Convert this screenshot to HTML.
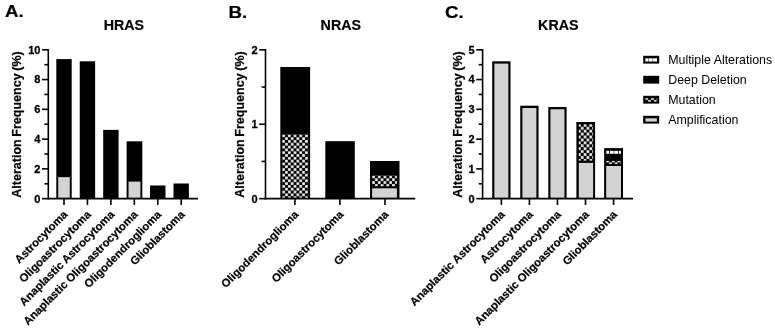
<!DOCTYPE html>
<html><head><meta charset="utf-8"><title>RAS alterations</title>
<style>
html,body{margin:0;padding:0;background:#fff;}
body{width:775px;height:328px;overflow:hidden;}
svg{display:block;font-family:"Liberation Sans",Arial,Helvetica,sans-serif;fill:#000;}
</style></head><body>
<svg width="775" height="328" viewBox="0 0 775 328">
<defs>
<pattern id="chk1" x="282.20" y="134.40" width="5.70" height="5.62" patternUnits="userSpaceOnUse"><rect width="5.70" height="5.62" fill="#000"/><rect x="0.13" y="0.13" width="2.59" height="2.55" fill="#fff"/><rect x="2.98" y="2.94" width="2.59" height="2.55" fill="#fff"/></pattern>
<pattern id="chk2" x="372.10" y="175.50" width="5.70" height="5.62" patternUnits="userSpaceOnUse"><rect width="5.70" height="5.62" fill="#000"/><rect x="0.13" y="0.13" width="2.59" height="2.55" fill="#fff"/><rect x="2.98" y="2.94" width="2.59" height="2.55" fill="#fff"/></pattern>
<pattern id="chk3" x="577.95" y="123.85" width="5.70" height="5.84" patternUnits="userSpaceOnUse"><rect width="5.70" height="5.84" fill="#000"/><rect x="0.13" y="0.13" width="2.59" height="2.66" fill="#fff"/><rect x="2.98" y="3.05" width="2.59" height="2.66" fill="#fff"/></pattern>
<pattern id="chk4" x="606.15" y="159.60" width="5.70" height="5.62" patternUnits="userSpaceOnUse"><rect width="5.70" height="5.62" fill="#000"/><rect x="0.13" y="0.13" width="2.59" height="2.55" fill="#fff"/><rect x="2.98" y="2.94" width="2.59" height="2.55" fill="#fff"/></pattern>
<pattern id="chk5" x="645.30" y="97.05" width="5.70" height="5.62" patternUnits="userSpaceOnUse"><rect width="5.70" height="5.62" fill="#000"/><rect x="0.13" y="0.13" width="2.59" height="2.55" fill="#fff"/><rect x="2.98" y="2.94" width="2.59" height="2.55" fill="#fff"/></pattern>
</defs>
<rect width="775" height="328" fill="#fff"/>
<rect x="56.30" y="59.10" width="15.40" height="139.55" fill="#000"/>
<rect x="58.20" y="177.10" width="11.60" height="20.75" fill="#d3d3d3"/>
<rect x="79.74" y="61.30" width="15.40" height="137.35" fill="#000"/>
<rect x="103.18" y="129.90" width="15.40" height="68.75" fill="#000"/>
<rect x="126.62" y="141.30" width="15.70" height="57.35" fill="#000"/>
<rect x="128.52" y="181.60" width="11.90" height="16.25" fill="#d3d3d3"/>
<rect x="150.06" y="185.50" width="15.40" height="13.15" fill="#000"/>
<rect x="173.50" y="183.50" width="15.40" height="15.15" fill="#000"/>
<line x1="48.30" y1="49.00" x2="48.30" y2="199.45" stroke="#000" stroke-width="1.6"/>
<line x1="47.50" y1="198.65" x2="198.00" y2="198.65" stroke="#000" stroke-width="1.6"/>
<line x1="42.00" y1="198.65" x2="48.30" y2="198.65" stroke="#000" stroke-width="1.6"/>
<text font-size="11.0" font-weight="bold" text-anchor="end" transform="translate(40.40 202.50) scale(1 1)" stroke="#000" stroke-width="0.3">0</text>
<line x1="42.00" y1="168.88" x2="48.30" y2="168.88" stroke="#000" stroke-width="1.6"/>
<text font-size="11.0" font-weight="bold" text-anchor="end" transform="translate(40.40 172.73) scale(1 1)" stroke="#000" stroke-width="0.3">2</text>
<line x1="42.00" y1="139.11" x2="48.30" y2="139.11" stroke="#000" stroke-width="1.6"/>
<text font-size="11.0" font-weight="bold" text-anchor="end" transform="translate(40.40 142.96) scale(1 1)" stroke="#000" stroke-width="0.3">4</text>
<line x1="42.00" y1="109.34" x2="48.30" y2="109.34" stroke="#000" stroke-width="1.6"/>
<text font-size="11.0" font-weight="bold" text-anchor="end" transform="translate(40.40 113.19) scale(1 1)" stroke="#000" stroke-width="0.3">6</text>
<line x1="42.00" y1="79.57" x2="48.30" y2="79.57" stroke="#000" stroke-width="1.6"/>
<text font-size="11.0" font-weight="bold" text-anchor="end" transform="translate(40.40 83.42) scale(1 1)" stroke="#000" stroke-width="0.3">8</text>
<line x1="42.00" y1="49.80" x2="48.30" y2="49.80" stroke="#000" stroke-width="1.6"/>
<text font-size="11.0" font-weight="bold" text-anchor="end" transform="translate(40.40 53.65) scale(1 1)" stroke="#000" stroke-width="0.3">10</text>
<line x1="44.40" y1="183.77" x2="48.30" y2="183.77" stroke="#000" stroke-width="1.6"/>
<line x1="44.40" y1="154.00" x2="48.30" y2="154.00" stroke="#000" stroke-width="1.6"/>
<line x1="44.40" y1="124.22" x2="48.30" y2="124.22" stroke="#000" stroke-width="1.6"/>
<line x1="44.40" y1="94.45" x2="48.30" y2="94.45" stroke="#000" stroke-width="1.6"/>
<line x1="44.40" y1="64.69" x2="48.30" y2="64.69" stroke="#000" stroke-width="1.6"/>
<line x1="64.00" y1="198.65" x2="64.00" y2="204.95" stroke="#000" stroke-width="1.6"/>
<text font-size="11.3" font-weight="bold" text-anchor="end" transform="translate(68.20 215.25) scale(1 1) rotate(-45)" stroke="#000" stroke-width="0.2">Astrocytoma</text>
<line x1="87.44" y1="198.65" x2="87.44" y2="204.95" stroke="#000" stroke-width="1.6"/>
<text font-size="11.3" font-weight="bold" text-anchor="end" transform="translate(91.64 215.25) scale(1 1) rotate(-45)" stroke="#000" stroke-width="0.2">Oligoastrocytoma</text>
<line x1="110.88" y1="198.65" x2="110.88" y2="204.95" stroke="#000" stroke-width="1.6"/>
<text font-size="11.3" font-weight="bold" text-anchor="end" transform="translate(115.08 215.25) scale(1 1) rotate(-45)" stroke="#000" stroke-width="0.2">Anaplastic Astrocytoma</text>
<line x1="134.32" y1="198.65" x2="134.32" y2="204.95" stroke="#000" stroke-width="1.6"/>
<text font-size="11.3" font-weight="bold" text-anchor="end" transform="translate(138.52 215.25) scale(1 1) rotate(-45)" stroke="#000" stroke-width="0.2">Anaplastic Oligoastrocytoma</text>
<line x1="157.76" y1="198.65" x2="157.76" y2="204.95" stroke="#000" stroke-width="1.6"/>
<text font-size="11.3" font-weight="bold" text-anchor="end" transform="translate(161.96 215.25) scale(1 1) rotate(-45)" stroke="#000" stroke-width="0.2">Oligodendroglioma</text>
<line x1="181.20" y1="198.65" x2="181.20" y2="204.95" stroke="#000" stroke-width="1.6"/>
<text font-size="11.3" font-weight="bold" text-anchor="end" transform="translate(185.40 215.25) scale(1 1) rotate(-45)" stroke="#000" stroke-width="0.2">Glioblastoma</text>
<text font-size="13.8" font-weight="bold" text-anchor="middle" transform="translate(123.90 30.00) scale(1.034 1)" stroke="#000" stroke-width="0.2">HRAS</text>
<text font-size="12.53" font-weight="bold" text-anchor="middle" transform="translate(21.20 124.50) scale(1.034 1) rotate(-90)" stroke="#000" stroke-width="0.2" word-spacing="-0.9">Alteration Frequency (%)</text>
<text font-size="17.4" font-weight="bold" text-anchor="start" transform="translate(5.00 17.20) scale(1.075 1)" stroke="#000" stroke-width="0.2">A.</text>
<rect x="280.30" y="67.00" width="29.80" height="131.65" fill="#000"/>
<rect x="282.20" y="134.40" width="26.00" height="63.45" fill="url(#chk1)"/>
<rect x="325.30" y="141.20" width="29.50" height="57.45" fill="#000"/>
<rect x="370.00" y="161.00" width="29.50" height="37.65" fill="#000"/>
<rect x="372.10" y="175.50" width="24.80" height="10.80" fill="url(#chk2)"/>
<rect x="372.10" y="188.30" width="24.80" height="9.55" fill="#d3d3d3"/>
<line x1="265.50" y1="49.00" x2="265.50" y2="199.45" stroke="#000" stroke-width="1.6"/>
<line x1="264.70" y1="198.65" x2="415.20" y2="198.65" stroke="#000" stroke-width="1.6"/>
<line x1="259.20" y1="198.65" x2="265.50" y2="198.65" stroke="#000" stroke-width="1.6"/>
<text font-size="11.0" font-weight="bold" text-anchor="end" transform="translate(257.60 202.50) scale(1 1)" stroke="#000" stroke-width="0.3">0</text>
<line x1="259.20" y1="124.22" x2="265.50" y2="124.22" stroke="#000" stroke-width="1.6"/>
<text font-size="11.0" font-weight="bold" text-anchor="end" transform="translate(257.60 128.07) scale(1 1)" stroke="#000" stroke-width="0.3">1</text>
<line x1="259.20" y1="49.80" x2="265.50" y2="49.80" stroke="#000" stroke-width="1.6"/>
<text font-size="11.0" font-weight="bold" text-anchor="end" transform="translate(257.60 53.65) scale(1 1)" stroke="#000" stroke-width="0.3">2</text>
<line x1="261.60" y1="161.44" x2="265.50" y2="161.44" stroke="#000" stroke-width="1.6"/>
<line x1="261.60" y1="87.01" x2="265.50" y2="87.01" stroke="#000" stroke-width="1.6"/>
<line x1="294.90" y1="198.65" x2="294.90" y2="204.95" stroke="#000" stroke-width="1.6"/>
<text font-size="11.3" font-weight="bold" text-anchor="end" transform="translate(299.10 215.25) scale(1 1) rotate(-45)" stroke="#000" stroke-width="0.2">Oligodendroglioma</text>
<line x1="339.90" y1="198.65" x2="339.90" y2="204.95" stroke="#000" stroke-width="1.6"/>
<text font-size="11.3" font-weight="bold" text-anchor="end" transform="translate(344.10 215.25) scale(1 1) rotate(-45)" stroke="#000" stroke-width="0.2">Oligoastrocytoma</text>
<line x1="385.00" y1="198.65" x2="385.00" y2="204.95" stroke="#000" stroke-width="1.6"/>
<text font-size="11.3" font-weight="bold" text-anchor="end" transform="translate(389.20 215.25) scale(1 1) rotate(-45)" stroke="#000" stroke-width="0.2">Glioblastoma</text>
<text font-size="13.8" font-weight="bold" text-anchor="middle" transform="translate(340.80 30.00) scale(1.034 1)" stroke="#000" stroke-width="0.2">NRAS</text>
<text font-size="12.53" font-weight="bold" text-anchor="middle" transform="translate(244.00 124.50) scale(1.034 1) rotate(-90)" stroke="#000" stroke-width="0.2" word-spacing="-0.9">Alteration Frequency (%)</text>
<text font-size="17.4" font-weight="bold" text-anchor="start" transform="translate(228.40 18.00) scale(1.075 1)" stroke="#000" stroke-width="0.2">B.</text>
<rect x="492.20" y="61.30" width="18.30" height="137.35" fill="#000"/>
<rect x="494.35" y="63.60" width="14.00" height="134.25" fill="#d3d3d3"/>
<rect x="520.25" y="105.70" width="18.30" height="92.95" fill="#000"/>
<rect x="522.40" y="108.00" width="14.00" height="89.85" fill="#d3d3d3"/>
<rect x="548.30" y="107.00" width="18.30" height="91.65" fill="#000"/>
<rect x="550.45" y="109.30" width="14.00" height="88.55" fill="#d3d3d3"/>
<rect x="576.40" y="122.00" width="18.70" height="76.65" fill="#000"/>
<rect x="578.80" y="124.30" width="14.30" height="36.30" fill="url(#chk3)"/>
<rect x="578.80" y="162.90" width="14.30" height="34.95" fill="#d3d3d3"/>
<rect x="604.15" y="148.10" width="18.85" height="50.55" fill="#000"/>
<rect x="606.30" y="150.80" width="2.80" height="3.00" fill="#fff"/>
<rect x="609.90" y="150.80" width="3.80" height="3.00" fill="#fff"/>
<rect x="614.20" y="150.80" width="3.90" height="3.00" fill="#fff"/>
<rect x="618.85" y="150.80" width="2.15" height="3.00" fill="#fff"/>
<rect x="606.15" y="160.90" width="14.85" height="3.10" fill="url(#chk4)"/>
<rect x="606.15" y="166.00" width="14.85" height="31.85" fill="#d3d3d3"/>
<line x1="482.60" y1="49.00" x2="482.60" y2="199.45" stroke="#000" stroke-width="1.6"/>
<line x1="481.80" y1="198.65" x2="633.00" y2="198.65" stroke="#000" stroke-width="1.6"/>
<line x1="476.30" y1="198.65" x2="482.60" y2="198.65" stroke="#000" stroke-width="1.6"/>
<text font-size="11.0" font-weight="bold" text-anchor="end" transform="translate(474.70 202.50) scale(1 1)" stroke="#000" stroke-width="0.3">0</text>
<line x1="476.30" y1="168.88" x2="482.60" y2="168.88" stroke="#000" stroke-width="1.6"/>
<text font-size="11.0" font-weight="bold" text-anchor="end" transform="translate(474.70 172.73) scale(1 1)" stroke="#000" stroke-width="0.3">1</text>
<line x1="476.30" y1="139.11" x2="482.60" y2="139.11" stroke="#000" stroke-width="1.6"/>
<text font-size="11.0" font-weight="bold" text-anchor="end" transform="translate(474.70 142.96) scale(1 1)" stroke="#000" stroke-width="0.3">2</text>
<line x1="476.30" y1="109.34" x2="482.60" y2="109.34" stroke="#000" stroke-width="1.6"/>
<text font-size="11.0" font-weight="bold" text-anchor="end" transform="translate(474.70 113.19) scale(1 1)" stroke="#000" stroke-width="0.3">3</text>
<line x1="476.30" y1="79.57" x2="482.60" y2="79.57" stroke="#000" stroke-width="1.6"/>
<text font-size="11.0" font-weight="bold" text-anchor="end" transform="translate(474.70 83.42) scale(1 1)" stroke="#000" stroke-width="0.3">4</text>
<line x1="476.30" y1="49.80" x2="482.60" y2="49.80" stroke="#000" stroke-width="1.6"/>
<text font-size="11.0" font-weight="bold" text-anchor="end" transform="translate(474.70 53.65) scale(1 1)" stroke="#000" stroke-width="0.3">5</text>
<line x1="478.70" y1="183.77" x2="482.60" y2="183.77" stroke="#000" stroke-width="1.6"/>
<line x1="478.70" y1="154.00" x2="482.60" y2="154.00" stroke="#000" stroke-width="1.6"/>
<line x1="478.70" y1="124.22" x2="482.60" y2="124.22" stroke="#000" stroke-width="1.6"/>
<line x1="478.70" y1="94.45" x2="482.60" y2="94.45" stroke="#000" stroke-width="1.6"/>
<line x1="478.70" y1="64.69" x2="482.60" y2="64.69" stroke="#000" stroke-width="1.6"/>
<line x1="501.35" y1="198.65" x2="501.35" y2="204.95" stroke="#000" stroke-width="1.6"/>
<text font-size="11.3" font-weight="bold" text-anchor="end" transform="translate(505.55 215.25) scale(1 1) rotate(-45)" stroke="#000" stroke-width="0.2">Anaplastic Astrocytoma</text>
<line x1="529.40" y1="198.65" x2="529.40" y2="204.95" stroke="#000" stroke-width="1.6"/>
<text font-size="11.3" font-weight="bold" text-anchor="end" transform="translate(533.60 215.25) scale(1 1) rotate(-45)" stroke="#000" stroke-width="0.2">Astrocytoma</text>
<line x1="557.45" y1="198.65" x2="557.45" y2="204.95" stroke="#000" stroke-width="1.6"/>
<text font-size="11.3" font-weight="bold" text-anchor="end" transform="translate(561.65 215.25) scale(1 1) rotate(-45)" stroke="#000" stroke-width="0.2">Oligoastrocytoma</text>
<line x1="585.50" y1="198.65" x2="585.50" y2="204.95" stroke="#000" stroke-width="1.6"/>
<text font-size="11.3" font-weight="bold" text-anchor="end" transform="translate(589.70 215.25) scale(1 1) rotate(-45)" stroke="#000" stroke-width="0.2">Anaplastic Oligoastrocytoma</text>
<line x1="613.55" y1="198.65" x2="613.55" y2="204.95" stroke="#000" stroke-width="1.6"/>
<text font-size="11.3" font-weight="bold" text-anchor="end" transform="translate(617.75 215.25) scale(1 1) rotate(-45)" stroke="#000" stroke-width="0.2">Glioblastoma</text>
<text font-size="13.8" font-weight="bold" text-anchor="middle" transform="translate(558.30 30.00) scale(1.034 1)" stroke="#000" stroke-width="0.2">KRAS</text>
<text font-size="12.53" font-weight="bold" text-anchor="middle" transform="translate(461.70 124.50) scale(1.034 1) rotate(-90)" stroke="#000" stroke-width="0.2" word-spacing="-0.9">Alteration Frequency (%)</text>
<text font-size="17.4" font-weight="bold" text-anchor="start" transform="translate(445.00 18.30) scale(1.075 1)" stroke="#000" stroke-width="0.2">C.</text>
<rect x="643.20" y="55.80" width="16.00" height="7.80" fill="#000"/>
<text font-size="12" font-weight="normal" text-anchor="start" transform="translate(668.20 63.60) scale(1.034 1)">Multiple Alterations</text>
<rect x="643.20" y="75.80" width="16.00" height="7.80" fill="#000"/>
<text font-size="12" font-weight="normal" text-anchor="start" transform="translate(668.20 83.60) scale(1.034 1)">Deep Deletion</text>
<rect x="643.20" y="95.80" width="16.00" height="7.80" fill="#000"/>
<text font-size="12" font-weight="normal" text-anchor="start" transform="translate(668.20 103.60) scale(1.034 1)">Mutation</text>
<rect x="643.20" y="115.80" width="16.00" height="7.80" fill="#000"/>
<text font-size="12" font-weight="normal" text-anchor="start" transform="translate(668.20 123.60) scale(1.034 1)">Amplification</text>
<rect x="645.30" y="58.30" width="2.75" height="3.20" fill="#fff"/>
<rect x="648.45" y="58.30" width="4.25" height="3.20" fill="#fff"/>
<rect x="653.10" y="58.30" width="3.90" height="3.20" fill="#fff"/>
<rect x="645.30" y="98.20" width="12.10" height="3.40" fill="url(#chk5)"/>
<rect x="645.50" y="118.30" width="11.40" height="3.30" fill="#d3d3d3"/>
</svg>
</body></html>
